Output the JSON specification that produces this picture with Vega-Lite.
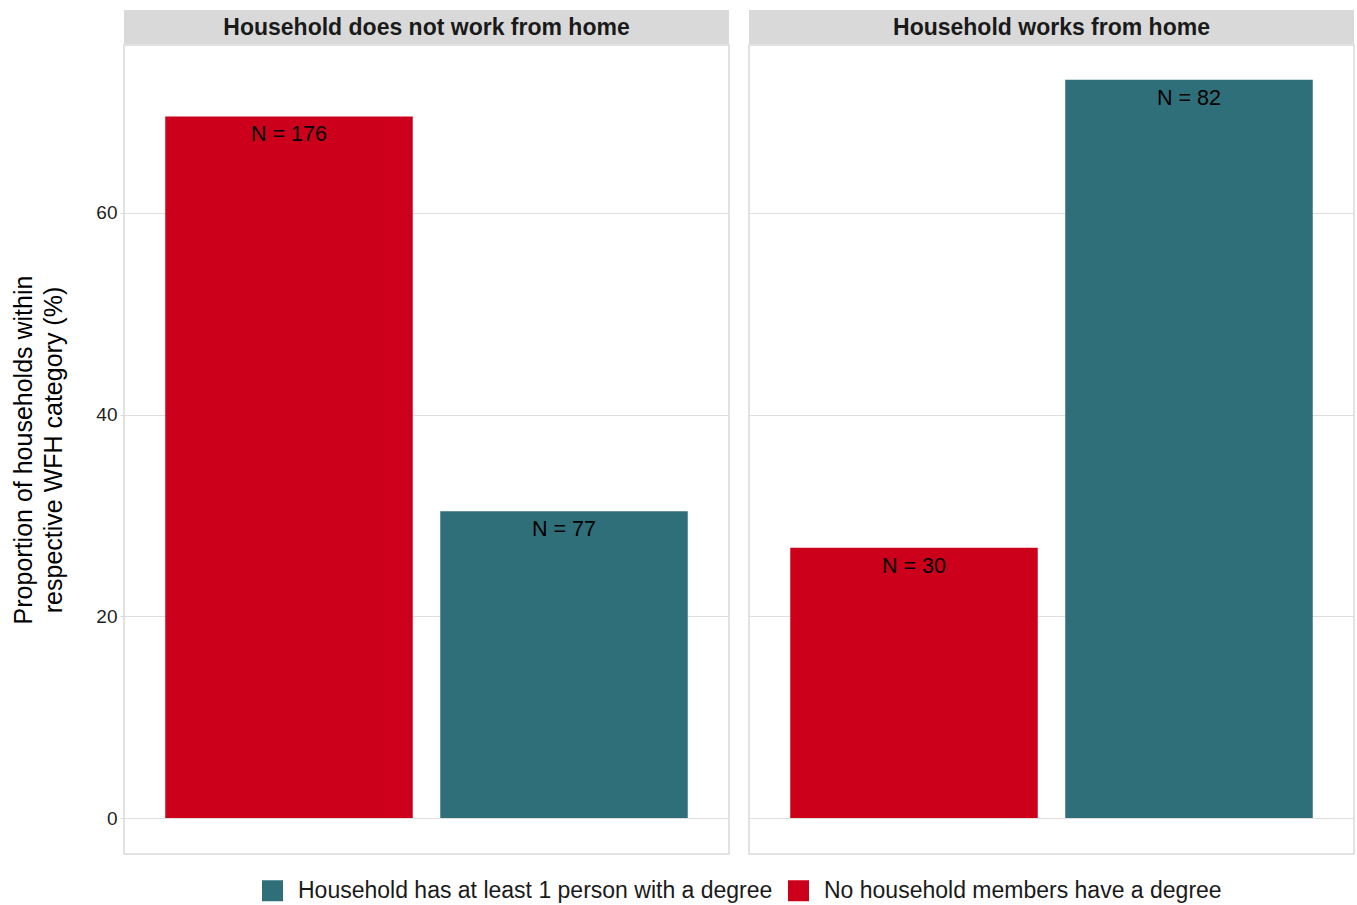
{
  "$schema": "https://vega.github.io/schema/vega-lite/v6.json",
  "background": "white",
  "padding": {"left": 11, "top": 10, "right": 2, "bottom": 5},
  "data": {"values": [
    {"wfh": "Household does not work from home", "degree": "No household members have a degree", "pct": 69.57, "label": "N = 176"},
    {"wfh": "Household does not work from home", "degree": "Household has at least 1 person with a degree", "pct": 30.43, "label": "N = 77"},
    {"wfh": "Household works from home", "degree": "No household members have a degree", "pct": 26.79, "label": "N = 30"},
    {"wfh": "Household works from home", "degree": "Household has at least 1 person with a degree", "pct": 73.21, "label": "N = 82"}
  ]},
  "hconcat": [
    {
      "vconcat": [
        {
          "width": 605, "height": 34,
          "view": {"fill": "#D9D9D9", "stroke": null},
          "transform": [{"filter": "datum.wfh === 'Household does not work from home'"}, {"aggregate": [], "groupby": ["wfh"]}],
          "mark": {"type": "text", "font": "Liberation Sans", "fontWeight": "bold", "fontSize": 23, "color": "#1A1A1A", "dy": 1},
          "encoding": {"text": {"field": "wfh", "type": "nominal"}}
        },
        {
          "width": 605, "height": 809,
          "view": {"stroke": "#D9D9D9", "strokeWidth": 1.5, "fill": "white"},
          "transform": [{"filter": "datum.wfh === 'Household does not work from home'"}],
          "encoding": {
            "x": {"field": "degree", "type": "nominal", "axis": null,
                  "sort": ["No household members have a degree", "Household has at least 1 person with a degree"],
                  "scale": {"paddingInner": 0.1, "paddingOuter": 0.15}},
            "y": {"field": "pct", "type": "quantitative",
                  "scale": {"domain": [-3.57, 76.66], "nice": false, "zero": false},
                  "axis": {"values": [0, 20, 40, 60], "title": ["Proportion of households within", "respective WFH category (%)"],
                           "titleFont": "Liberation Sans", "titleFontSize": 25, "titleFontWeight": "normal", "titleColor": "#000000",
                           "titleLineHeight": 30, "titlePadding": 29,
                           "labelFont": "Liberation Sans", "labelFontSize": 19, "labelColor": "#1F1F1F", "labelPadding": 3,
                           "tickSize": 4, "tickColor": "#D9D9D9", "domain": false, "grid": true, "gridColor": "#DEDEDE", "gridWidth": 1}}
          },
          "layer": [
            {
              "mark": {"type": "bar"},
              "encoding": {
                "color": {"field": "degree", "type": "nominal",
                          "scale": {"domain": ["Household has at least 1 person with a degree", "No household members have a degree"], "range": ["#2F6F79", "#CC001B"]},
                          "legend": {"orient": "none", "direction": "horizontal", "legendX": 137, "legendY": 869, "title": null,
                                     "symbolType": "square", "symbolSize": 441, "symbolStrokeWidth": 0, "symbolOpacity": 1,
                                     "labelFont": "Liberation Sans", "labelFontSize": 23, "labelColor": "#1A1A1A", "labelOffset": 14, "columnPadding": 14, "labelLimit": 700}}
              }
            },
            {
              "mark": {"type": "text", "baseline": "middle", "dy": 19, "font": "Liberation Sans", "fontSize": 21.5, "color": "#000000"},
              "encoding": {"text": {"field": "label", "type": "nominal"}}
            }
          ]
        }
      ],
      "spacing": 0
    },
    {
      "vconcat": [
        {
          "width": 605, "height": 34,
          "view": {"fill": "#D9D9D9", "stroke": null},
          "transform": [{"filter": "datum.wfh === 'Household works from home'"}, {"aggregate": [], "groupby": ["wfh"]}],
          "mark": {"type": "text", "font": "Liberation Sans", "fontWeight": "bold", "fontSize": 23, "color": "#1A1A1A", "dy": 1},
          "encoding": {"text": {"field": "wfh", "type": "nominal"}}
        },
        {
          "width": 605, "height": 809,
          "view": {"stroke": "#D9D9D9", "strokeWidth": 1.5, "fill": "white"},
          "transform": [{"filter": "datum.wfh === 'Household works from home'"}],
          "encoding": {
            "x": {"field": "degree", "type": "nominal", "axis": null,
                  "sort": ["No household members have a degree", "Household has at least 1 person with a degree"],
                  "scale": {"paddingInner": 0.1, "paddingOuter": 0.15}},
            "y": {"field": "pct", "type": "quantitative",
                  "scale": {"domain": [-3.57, 76.66], "nice": false, "zero": false},
                  "axis": {"values": [0, 20, 40, 60], "title": null, "labels": false, "ticks": false, "domain": false,
                           "grid": true, "gridColor": "#DEDEDE", "gridWidth": 1}}
          },
          "layer": [
            {
              "mark": {"type": "bar"},
              "encoding": {
                "color": {"field": "degree", "type": "nominal",
                          "scale": {"domain": ["Household has at least 1 person with a degree", "No household members have a degree"], "range": ["#2F6F79", "#CC001B"]},
                          "legend": {"orient": "none", "direction": "horizontal", "legendX": 137, "legendY": 869, "title": null,
                                     "symbolType": "square", "symbolSize": 441, "symbolStrokeWidth": 0, "symbolOpacity": 1,
                                     "labelFont": "Liberation Sans", "labelFontSize": 23, "labelColor": "#1A1A1A", "labelOffset": 14, "columnPadding": 14, "labelLimit": 700}}
              }
            },
            {
              "mark": {"type": "text", "baseline": "middle", "dy": 19, "font": "Liberation Sans", "fontSize": 21.5, "color": "#000000"},
              "encoding": {"text": {"field": "label", "type": "nominal"}}
            }
          ]
        }
      ],
      "spacing": 0
    }
  ],
  "spacing": 18,
  "resolve": {"scale": {"color": "shared"}, "legend": {"color": "shared"}},
  "config": {"font": "Liberation Sans"}
}
